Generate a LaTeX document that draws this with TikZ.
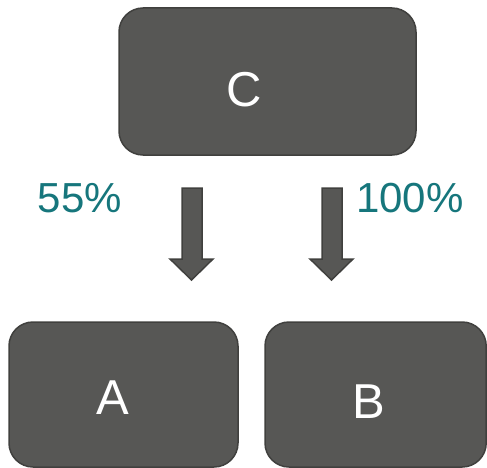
\documentclass[tikz,border=0pt]{standalone}
\usepackage{fontspec}
\setmainfont{Liberation Sans}
\definecolor{boxfill}{RGB}{87,87,85}
\definecolor{boxline}{RGB}{64,64,62}
\definecolor{teal}{RGB}{22,118,124}
\tikzset{
  blk/.style={draw=boxline, fill=boxfill, line width=1.5pt, rounded corners=24pt},
  lettertxt/.style={text=white, inner sep=0pt, font=\fontsize{49}{49}\selectfont},
  pcttxt/.style={text=teal, inner sep=0pt, font=\fontsize{42}{42}\selectfont},
  blockarrow/.style={draw=boxline, fill=boxfill, line width=1.5pt, line join=miter}
}
\begin{document}
\begin{tikzpicture}[x=1pt,y=-1pt]
\useasboundingbox (0,0) rectangle (487,468);
% boxes
\draw[blk] (119,8) rectangle (416,155);
\draw[blk] (9,322) rectangle (238,467);
\draw[blk] (265,322) rectangle (486.2,467);
\node[coordinate] (C) at (267.5,81.5) {};
\node[coordinate] (A) at (123.5,394.5) {};
\node[coordinate] (B) at (375.5,394.5) {};
% texts
\node[lettertxt] (tC) at (244,90) {C};
\node[lettertxt] (tA) at (113,398) {A};
\node[lettertxt] (tB) at (369,402) {B};
\node[pcttxt] (p1) at (80,198) {55\%};
\node[pcttxt] (p2) at (410,198) {100\%};
% block arrows
\draw[blockarrow] (182,188) -- (202,188) -- (202,259) -- (213,259) -- (191.5,280) -- (170,259) -- (182,259) -- cycle;
\draw[blockarrow] (322,188) -- (342,188) -- (342,259) -- (353,259) -- (331.5,280) -- (310,259) -- (322,259) -- cycle;
\end{tikzpicture}
\end{document}
